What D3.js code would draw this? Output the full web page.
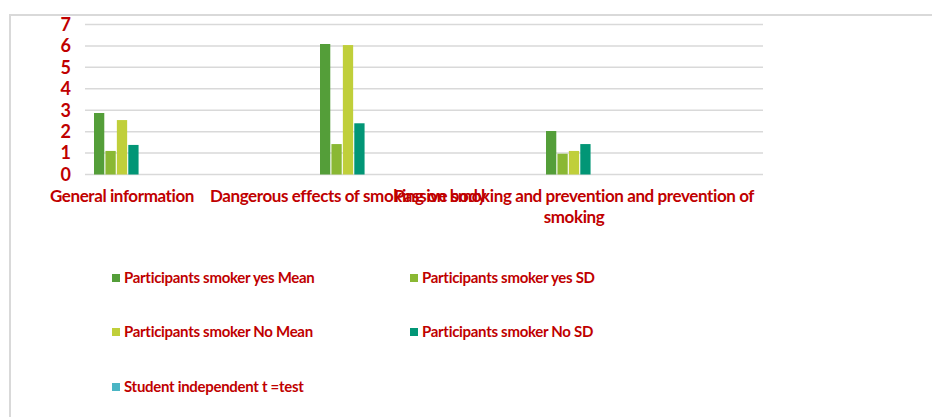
<!DOCTYPE html>
<html>
<head>
<meta charset="utf-8">
<script src="https://cdn.jsdelivr.net/npm/d3@7"></script>
<style>
  body { margin: 0; background: #fff; }
  text { font-family: Lato, "Open Sans", sans-serif; font-weight: 700; fill: #c00000; }
</style>
</head>
<body>
<svg id="chart" width="932" height="417"></svg>
<script>
// categories on the x axis
const categories = [
  "General information",
  "Dangerous effects of smoking on body",
  "Passive smoking and prevention and prevention of smoking"
]
// series (last one has no values in the picture)
const seriesNames = [
  "Participants smoker yes Mean",
  "Participants smoker yes SD",
  "Participants smoker No Mean",
  "Participants smoker No SD",
  "Student independent  t =test"
]
const yesMean = [2.87, 6.09, 2.03]
const yesSD = [1.10, 1.42, 0.97]
const noMean = [2.54, 6.04, 1.10]
const noSD = [1.38, 2.39, 1.42]
const tTest = [null, null, null]
const yTicks = [0, 1, 2, 3, 4, 5, 6, 7]

const colors = ["#549e39", "#8ab833", "#c0cf3a", "#029676", "#4ab5c4"]
const allSeries = [yesMean, yesSD, noMean, noSD, tTest]

const svg = d3.select('#chart')

// outer frame
svg.append('path')
  .attr('d', 'M10,420 L10,15 L935,15')
  .attr('fill', 'none')
  .attr('stroke', '#d9d9d9')
  .attr('stroke-width', 2)

const x0 = d3.scaleBand().domain(categories).range([85, 763])
const x1 = d3.scaleBand().domain(seriesNames).range([9, 65]).paddingInner(0.1)
const y = d3.scaleLinear().domain([0, 7]).range([174.5, 24.5])

// gridlines
svg.append('g')
  .selectAll('line')
  .data(yTicks)
  .join('line')
  .attr('x1', 85).attr('x2', 763)
  .attr('y1', d => y(d)).attr('y2', d => y(d))
  .attr('stroke', '#d9d9d9')
  .attr('stroke-width', 1.5)

// y tick labels
svg.append('g')
  .selectAll('text')
  .data(yTicks)
  .join('text')
  .attr('x', 71)
  .attr('y', d => y(d))
  .attr('dy', '0.35em')
  .attr('text-anchor', 'end')
  .attr('font-size', 18)
  .text(d => d)

// bars
allSeries.forEach((vals, si) => {
  svg.append('g')
    .selectAll('rect')
    .data(vals.map((v, i) => ({ cat: categories[i], v })).filter(d => d.v != null))
    .join('rect')
    .attr('x', d => x0(d.cat) + x1(seriesNames[si]))
    .attr('width', x1.bandwidth())
    .attr('y', d => y(d.v))
    .attr('height', d => y(0) - y(d.v))
    .attr('fill', colors[si])
})

// category labels (centred under each cluster)
const groupCenter = c => x0(c) + (x1.range()[0] + x1.range()[1]) / 2
const catLines = [
  ["General information"],
  ["Dangerous effects of smoking on body"],
  ["Passive smoking and prevention and prevention of", "smoking"]
]
categories.forEach((c, i) => {
  svg.append('text')
    .attr('x', groupCenter(c))
    .attr('y', 202)
    .attr('text-anchor', 'middle')
    .attr('font-size', 17)
    .attr('letter-spacing', -0.4)
    .selectAll('tspan')
    .data(catLines[i])
    .join('tspan')
    .attr('x', groupCenter(c))
    .attr('dy', (d, j) => j === 0 ? 0 : 21)
    .text(d => d)
})

// legend
const legendPos = [[112, 278], [410, 278], [112, 332], [410, 332], [112, 387]]
const legend = svg.append('g')
  .selectAll('g')
  .data(seriesNames)
  .join('g')
  .attr('transform', (d, i) => `translate(${legendPos[i][0]},${legendPos[i][1]})`)
legend.append('rect')
  .attr('x', 0).attr('y', -4)
  .attr('width', 8).attr('height', 8)
  .attr('fill', (d, i) => colors[i])
legend.append('text')
  .attr('x', 12)
  .attr('dy', '0.35em')
  .attr('font-size', 15)
  .attr('letter-spacing', -0.3)
  .text(d => d)
</script>
</body>
</html>
